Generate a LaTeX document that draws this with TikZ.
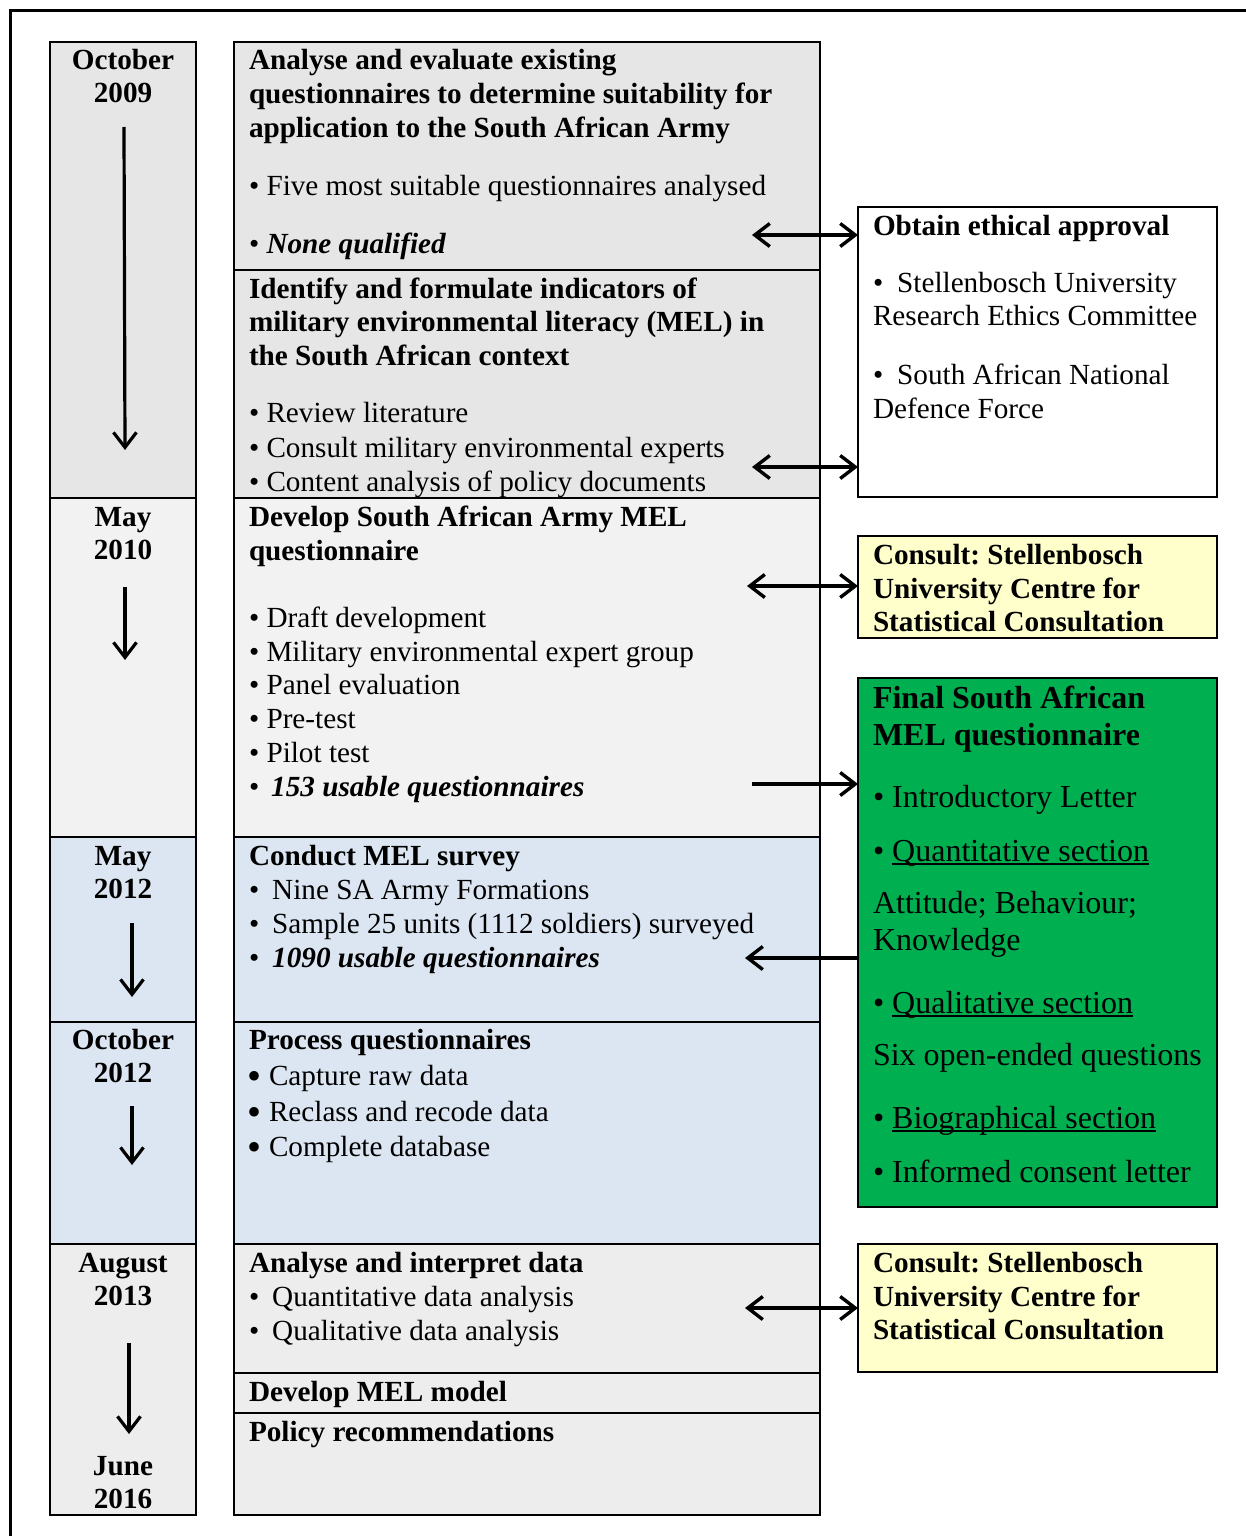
\documentclass[tikz,border=0pt]{standalone}
\usepackage{fontspec}
\setmainfont{Liberation Serif}
\usetikzlibrary{arrows.meta}
\frenchspacing
\definecolor{grayA}{HTML}{E6E6E6}
\definecolor{grayB}{HTML}{F2F2F2}
\definecolor{blueC}{HTML}{DCE6F2}
\definecolor{grayD}{HTML}{EDEDED}
\definecolor{greenE}{HTML}{00B050}
\definecolor{yellowF}{HTML}{FFFFCC}
\newsavebox\myulbox
\newcommand\myul[1]{\sbox\myulbox{#1}\rlap{\rule[-1.8pt]{\wd\myulbox}{0.75pt}}\usebox\myulbox}
\newcommand\mkpanel[6]{\node[panel, fill=#6, minimum width={(#4-#2)*0.5pt}, minimum height={(#5-#3)*0.5pt}] (#1) at (#2,#3) {};}
\newcommand\bigbul{\smash{\raisebox{-2.2pt}{\fontsize{20pt}{20pt}\selectfont•}}}
\tikzset{
  panel/.style={draw, line width=1.1pt, inner sep=0pt, outer sep=0pt, anchor=north west},
  txt/.style={anchor=base west, inner sep=0pt, outer sep=0pt, font=\fontsize{14.6pt}{17pt}\selectfont},
  btxt/.style={txt, font=\fontsize{14.6pt}{17pt}\selectfont\bfseries},
  dtxt/.style={anchor=base, inner sep=0pt, outer sep=0pt, font=\fontsize{14.6pt}{17pt}\selectfont\bfseries},
  gtxt/.style={anchor=base west, inner sep=0pt, outer sep=0pt, font=\fontsize{16pt}{19pt}\selectfont},
  gbtxt/.style={gtxt, font=\fontsize{16pt}{19pt}\selectfont\bfseries},
  barb/.tip={Straight Barb[length=7.5pt,width=11.5pt]},
  link/.style={line width=1.7pt, barb-barb},
  onelink/.style={line width=1.7pt, -barb},
  down/.style={line width=1.6pt, -{Straight Barb[length=7.5pt,width=11.5pt]}},
}
\begin{document}
\begin{tikzpicture}[x=0.5pt,y=-0.5pt]
\useasboundingbox (0,0) rectangle (1246,1536);
\draw[line width=1.5pt] (10,1545) -- (10,11) -- (1255,11);
% left column
\mkpanel{L1}{50}{42}{196}{498}{grayA}
\mkpanel{L2}{50}{498}{196}{837}{grayB}
\mkpanel{L3}{50}{837}{196}{1022}{blueC}
\mkpanel{L4}{50}{1022}{196}{1244}{blueC}
\mkpanel{L5}{50}{1244}{196}{1515}{grayD}
% middle column
\mkpanel{M1}{234}{42}{820}{270}{grayA}
\mkpanel{M2}{234}{270}{820}{498}{grayA}
\mkpanel{M3}{234}{498}{820}{837}{grayB}
\mkpanel{M4}{234}{837}{820}{1022}{blueC}
\mkpanel{M5}{234}{1022}{820}{1244}{blueC}
\mkpanel{M6}{234}{1244}{820}{1373}{grayD}
\mkpanel{M7}{234}{1373}{820}{1413}{grayD}
\mkpanel{M8}{234}{1413}{820}{1515}{grayD}
% right column
\mkpanel{R1}{858}{207}{1217}{497}{white}
\mkpanel{R2}{858}{536}{1217}{638}{yellowF}
\mkpanel{R3}{858}{678}{1217}{1207}{greenE}
\mkpanel{R4}{858}{1244}{1217}{1372}{yellowF}
% dates
\node[dtxt] (d1a) at (123,70) {October};
\node[dtxt] (d1b) at (123,103) {2009};
\node[dtxt] (d2a) at (123,526) {May};
\node[dtxt] (d2b) at (123,559) {2010};
\node[dtxt] (d3a) at (123,865) {May};
\node[dtxt] (d3b) at (123,898) {2012};
\node[dtxt] (d4a) at (123,1049) {October};
\node[dtxt] (d4b) at (123,1082) {2012};
\node[dtxt] (d5a) at (123,1272) {August};
\node[dtxt] (d5b) at (123,1305) {2013};
\node[dtxt] (d5c) at (123,1475) {June};
\node[dtxt] (d5d) at (123,1508) {2016};
% block A
\node[btxt] (a1) at (249,70) {Analyse and evaluate existing};
\node[btxt] (a2) at (249,104) {questionnaires to determine suitability for};
\node[btxt] (a3) at (249,138) {application to the South African Army};
\node[txt] (a4) at (249,195) {• Five most suitable questionnaires analysed};
\node[txt] (a5) at (249,253) {• \textbf{\textit{None qualified}}};
% block B
\node[btxt] (b1) at (249,298) {Identify and formulate indicators of};
\node[btxt] (b2) at (249,331) {military environmental literacy (MEL) in};
\node[btxt] (b3) at (249,365) {the South African context};
\node[txt] (b4) at (249,422) {• Review literature};
\node[txt] (b5) at (249,457) {• Consult military environmental experts};
\node[txt] (b6) at (249,491) {• Content analysis of policy documents};
% block C
\node[btxt] (c1) at (249,526) {Develop South African Army MEL};
\node[btxt] (c2) at (249,560) {questionnaire};
\node[txt] (c3) at (249,627) {• Draft development};
\node[txt] (c4) at (249,661) {• Military environmental expert group};
\node[txt] (c5) at (249,694) {• Panel evaluation};
\node[txt] (c6) at (249,728) {• Pre-test};
\node[txt] (c7) at (249,762) {• Pilot test};
\node[txt] (c8) at (249,796) {•\hspace{6pt}\textbf{\textit{153 usable questionnaires}}};
% block D
\node[btxt] (e1) at (249,865) {Conduct MEL survey};
\node[txt] (e2) at (249,899) {•\hspace{6.5pt}Nine SA Army Formations};
\node[txt] (e3) at (249,933) {•\hspace{6.5pt}Sample 25 units (1112 soldiers) surveyed};
\node[txt] (e4) at (249,967) {•\hspace{6.5pt}\textbf{\textit{1090 usable questionnaires}}};
% block E
\node[btxt] (f1) at (249,1049) {Process questionnaires};
\node[txt] (f2) at (247,1085) {\bigbul\hspace{4pt}Capture raw data};
\node[txt] (f3) at (247,1121) {\bigbul\hspace{4pt}Reclass and recode data};
\node[txt] (f4) at (247,1156) {\bigbul\hspace{4pt}Complete database};
% block F, G, H
\node[btxt] (g1) at (249,1272) {Analyse and interpret data};
\node[txt] (g2) at (249,1306) {•\hspace{6.5pt}Quantitative data analysis};
\node[txt] (g3) at (249,1340) {•\hspace{6.5pt}Qualitative data analysis};
\node[btxt] (h1) at (249,1401) {Develop MEL model};
\node[btxt] (i1) at (249,1441) {Policy recommendations};
% right texts
\node[btxt] (r1a) at (873,235) {Obtain ethical approval};
\node[txt] (r1b) at (873,292) {•\hspace{7pt}Stellenbosch University};
\node[txt] (r1c) at (873,325) {Research Ethics Committee};
\node[txt] (r1d) at (873,384) {•\hspace{7pt}South African National};
\node[txt] (r1e) at (873,418) {Defence Force};
\node[btxt] (r2a) at (873,564) {Consult: Stellenbosch};
\node[btxt] (r2b) at (873,598) {University Centre for};
\node[btxt] (r2c) at (873,631) {Statistical Consultation};
\node[gbtxt] (r3a) at (873,708) {Final South African};
\node[gbtxt] (r3b) at (873,745) {MEL questionnaire};
\node[gtxt] (r3c) at (873,807) {• Introductory Letter};
\node[gtxt] (r3d) at (873,861) {• \myul{Quantitative section}};
\node[gtxt] (r3e) at (873,913) {Attitude; Behaviour;};
\node[gtxt] (r3f) at (873,950) {Knowledge};
\node[gtxt] (r3g) at (873,1013) {• \myul{Qualitative section}};
\node[gtxt] (r3h) at (873,1065) {Six open-ended questions};
\node[gtxt] (r3i) at (873,1128) {• \myul{Biographical section}};
\node[gtxt] (r3j) at (873,1182) {• Informed consent letter};
\node[btxt] (r4a) at (873,1272) {Consult: Stellenbosch};
\node[btxt] (r4b) at (873,1306) {University Centre for};
\node[btxt] (r4c) at (873,1339) {Statistical Consultation};
% horizontal connectors
\coordinate (h1s) at (752,235);
\coordinate (h2s) at (752,467);
\coordinate (h3s) at (747,586);
\coordinate (h4s) at (752,784);
\coordinate (h5e) at (745,958);
\coordinate (h6s) at (745,1308);
\draw[link] (h1s) -- (h1s -| R1.west);
\draw[link] (h2s) -- (h2s -| R1.west);
\draw[link] (h3s) -- (h3s -| R2.west);
\draw[onelink] (h4s) -- (h4s -| R3.west);
\draw[onelink] (h5e -| R3.west) -- (h5e);
\draw[link] (h6s) -- (h6s -| R4.west);
% vertical arrows
\coordinate (v1s) at (124,127); \coordinate (v1e) at (125,450);
\coordinate (v2s) at (125,587); \coordinate (v2e) at (125,660);
\coordinate (v3s) at (132,923); \coordinate (v3e) at (132,997);
\coordinate (v4s) at (132,1106); \coordinate (v4e) at (132,1165);
\coordinate (v5s) at (129,1343); \coordinate (v5e) at (129,1434);
\draw[down] (v1s) -- (v1e);
\draw[down] (v2s) -- (v2e);
\draw[down] (v3s) -- (v3e);
\draw[down] (v4s) -- (v4e);
\draw[down] (v5s) -- (v5e);
\end{tikzpicture}
\end{document}
